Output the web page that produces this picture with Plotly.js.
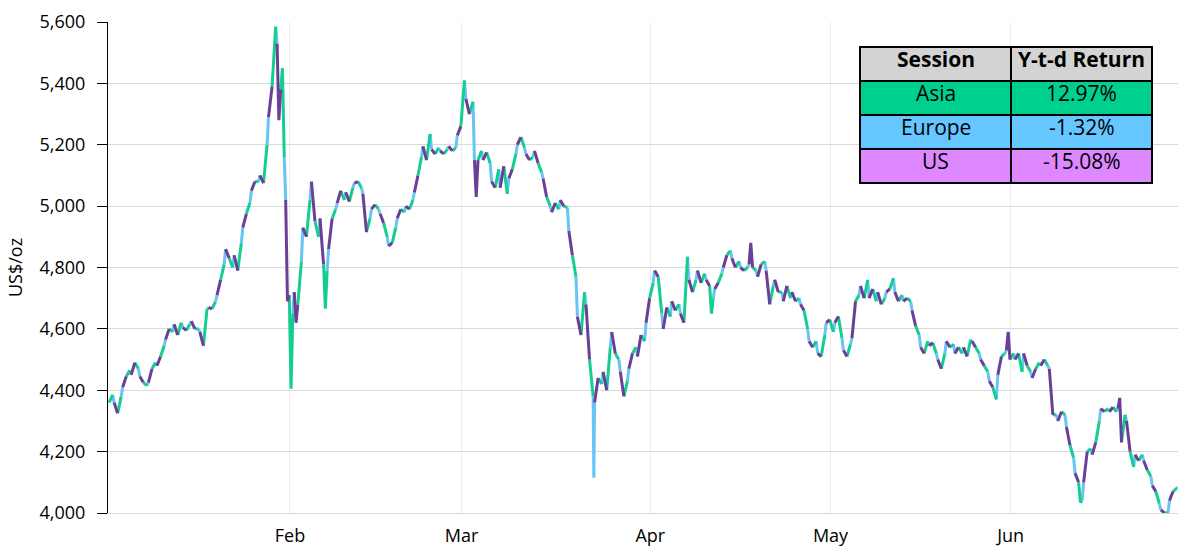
<!DOCTYPE html>
<html><head><meta charset="utf-8">
<script src="https://cdn.plot.ly/plotly-3.0.1.min.js"></script>
<style>html,body{margin:0;padding:0;background:#fff}#chart{width:1191px;height:560px}</style>
</head><body><div id="chart"></div>
<script>
// ---- data ----
const firstDay = '2026-01-02';
const lastDay = '2026-06-26';
const holidays = ['2026-04-03'];
const startOpen = 4360;

// session-end prices per trading day (Asia, Europe, US)
const asiaClose = [
 4385,
 4380,4465,4470,4415,4490,
 4545,4590,4620,4615,4600,
 4665,4690,4810,4800,4880,
 5010,5080,5200,5585,5160,
 4650,4820,5020,4900,4790,
 4990,5020,5060,5060,4960,
 4990,4900,4930,4980,5020,
 5160,5235,5190,5185,5190,
 5410,5340,5180,5140,5120,
 5040,5170,5190,5160,5110,
 5000,4990,4995,4770,4720,
 4380,4420,4540,4500,4430,
 4540,4560,4750,4650,
 4640,4680,4835,4760,4780,
 4700,4780,4855,4820,4800,
 4790,4820,4740,4720,4700,
 4700,4600,4560,4580,4590,
 4570,4550,4710,4760,4690,
 4700,4765,4710,4690,4580,
 4560,4520,4520,4550,4520,
 4565,4520,4460,4370,4520,
 4520,4460,4460,4490,4480,
 4320,4320,4180,4040,4210,
 4300,4340,4330,4320,4150,
 4190,4120,4030,4000,4080
];
const europeClose = [
 4360,
 4410,4450,4445,4425,4480,
 4565,4615,4605,4625,4590,
 4670,4710,4860,4840,4930,
 5050,5100,5290,5530,5020,
 4720,4930,5080,4960,4860,
 5010,5045,5075,5040,4990,
 4975,4870,4960,5000,5045,
 5195,5185,5180,5195,5230,
 5350,5150,5150,5080,5060,
 5090,5200,5170,5180,5090,
 4980,5020,4920,4640,4680,
 4360,4460,4590,4460,4470,
 4510,4620,4790,4600,
 4690,4650,4760,4790,4760,
 4730,4800,4830,4800,4810,
 4770,4790,4760,4690,4720,
 4680,4560,4520,4620,4620,
 4530,4570,4740,4700,4720,
 4720,4720,4690,4660,4540,
 4545,4500,4560,4520,4540,
 4560,4500,4430,4450,4530,
 4500,4520,4440,4480,4470,
 4300,4280,4130,4100,4190,
 4340,4330,4340,4300,4190,
 4170,4090,4010,4040,4085
];
const usClose = [
 4325,
 4445,4490,4425,4470,4510,
 4600,4580,4595,4600,4545,
 4665,4760,4830,4790,4975,
 5080,5075,5390,5380,4710,
 4680,4900,4950,4810,4960,
 5050,5015,5080,4915,5005,
 4945,4880,4990,4990,5100,
 5150,5170,5170,5180,5260,
 5300,5150,5175,5060,5130,
 5120,5225,5150,5140,5030,
 5010,5000,4840,4580,4500,
 4440,4400,4520,4380,4520,
 4580,4700,4770,4670,
 4660,4620,4720,4750,4740,
 4750,4840,4800,4790,4800,
 4810,4680,4720,4740,4690,
 4660,4540,4510,4630,4640,
 4510,4690,4700,4730,4680,
 4730,4690,4700,4610,4520,
 4555,4470,4540,4540,4510,
 4540,4480,4410,4510,4500,
 4520,4480,4470,4500,4320,
 4330,4220,4100,4200,4230,
 4330,4345,4230,4200,4170,
 4140,4070,4000,4070,null
];

// intra-session extremes
const spikeDate    = ['2026-01-29','2026-01-30','2026-01-30','2026-02-02','2026-02-02','2026-02-06','2026-03-03','2026-03-23','2026-04-13','2026-04-17','2026-05-29','2026-06-11','2026-06-17'];
const spikeSession = ['US','Asia','US','Asia','US','Asia','US','Europe','Asia','US','US','Asia','US'];
const spikeValue   = [5280,5450,4690,4405,4620,4666,5030,4115,4650,4880,4590,4035,4375];

const monthTicks  = ['2026-02-02','2026-03-02','2026-04-01','2026-05-01','2026-06-01'];
const monthLabels = ['Feb','Mar','Apr','May','Jun'];

const tableHeader = ['Session','Y-t-d Return'];
const sessions    = ['Asia','Europe','US'];
const ytdReturns  = ['12.97%','-1.32%','-15.08%'];

// ---- styling ----
const lineColors = {Asia:'#13cf8f', Europe:'#66c4f7', US:'#6b3f97'};
const headerFill = '#d3d3d3';
const tableFills = ['#00d08f','#66c6ff','#dd88ff'];
const FONT = 'Open Sans, Noto Sans, sans-serif';
const M = {l:108, r:13, t:22, b:47}, W = 1191, H = 560;
const PW = W - M.l - M.r, PH = H - M.t - M.b;
const px2x = p => (p - M.l) / PW, px2y = p => (H - M.b - p) / PH;

// ---- build trading days ----
const days = [];
for (let t = Date.parse(firstDay+'T00:00:00Z'); t <= Date.parse(lastDay+'T00:00:00Z'); t += 864e5) {
  const d = new Date(t); const wd = d.getUTCDay(); const iso = d.toISOString().slice(0,10);
  if (wd === 0 || wd === 6 || holidays.includes(iso)) continue;
  days.push(iso);
}
const seg = {Asia:{x:[],y:[]}, Europe:{x:[],y:[]}, US:{x:[],y:[]}};
function spikeFor(day, s) {
  for (let k = 0; k < spikeDate.length; k++) if (spikeDate[k] === day && spikeSession[k] === s) return spikeValue[k];
  return null;
}
function addSeg(s, t0, v0, tm, vm, t1, v1) {
  if (v1 === null || v0 === null) return;
  const S = seg[s];
  S.x.push(t0); S.y.push(v0);
  if (vm !== null) { S.x.push(tm); S.y.push(vm); }
  S.x.push(t1); S.y.push(v1);
  S.x.push(null); S.y.push(null);
}
let prevClose = startOpen, prevEnd = '2026-01-01 22:00';
days.forEach((d, i) => {
  const a = asiaClose[i], e = europeClose[i], u = usClose[i];
  addSeg('Asia', prevEnd, prevClose, d+' 03:00', spikeFor(d,'Asia'), d+' 08:00', a);
  addSeg('Europe', d+' 08:00', a, d+' 10:00', spikeFor(d,'Europe'), d+' 12:00', e);
  addSeg('US', d+' 12:00', e, d+' 17:00', spikeFor(d,'US'), d+' 22:00', u);
  prevClose = u; prevEnd = d+' 22:00';
});

const traces = ['Europe','Asia','US'].map(s => ({
  type:'scatter', mode:'lines', x:seg[s].x, y:seg[s].y, name:s,
  line:{color:lineColors[s], width:3}, connectgaps:false, hoverinfo:'skip', showlegend:false
}));

// ---- table as shapes + annotations ----
const tblLeft = 860, tblMid = 1011, tblRight = 1152, tblTop = 47, rowH = 34;
const shapes = [], annotations = [];
const rows = [tableHeader].concat(sessions.map((s, i) => [s, ytdReturns[i]]));
const fills = [headerFill].concat(tableFills);
rows.forEach((r, i) => {
  const y0 = tblTop + i*rowH, y1 = y0 + rowH;
  [[tblLeft, tblMid], [tblMid, tblRight]].forEach(([x0, x1], j) => {
    shapes.push({type:'rect', xref:'paper', yref:'paper', layer:'above',
      x0:px2x(x0), x1:px2x(x1), y0:px2y(y1), y1:px2y(y0),
      fillcolor:fills[i], line:{color:'#000', width:2}});
    annotations.push({xref:'paper', yref:'paper', x:px2x((x0+x1)/2), y:px2y((y0+y1)/2 - 5),
      xanchor:'center', yanchor:'middle', showarrow:false,
      text: i === 0 ? '<b>'+r[j]+'</b>' : r[j],
      font:{family:FONT, size:21, color:'#000'}});
  });
});

const layout = {
  width:W, height:H, margin:M,
  paper_bgcolor:'#fff', plot_bgcolor:'#fff',
  font:{family:FONT, size:18, color:'#000'},
  showlegend:false, shapes, annotations,
  xaxis:{
    type:'date',
    range:['2026-01-01 19:00','2026-06-26 12:00'],
    rangebreaks:[{bounds:['sat','mon']},{values:holidays}],
    tickmode:'array', tickvals:monthTicks, ticktext:monthLabels,
    showgrid:true, gridcolor:'#ececec', gridwidth:1,
    showline:true, linecolor:'#d9d9d9', linewidth:1,
    ticks:'', zeroline:false, ticklabelstandoff:6,
    tickfont:{family:FONT, size:18, color:'#000'}
  },
  yaxis:{
    range:[4000,5600], dtick:200, tick0:4000, tickformat:',',
    showgrid:true, gridcolor:'#d9d9d9', gridwidth:1.2,
    showline:true, linecolor:'#000', linewidth:1,
    ticks:'outside', ticklen:10, tickcolor:'#000', tickwidth:1,
    ticklabelstandoff:8, zeroline:false,
    tickfont:{family:FONT, size:18, color:'#000'},
    title:{text:'US$/oz', font:{family:FONT, size:18, color:'#000'}, standoff:12}
  }
};
Plotly.newPlot('chart', traces, layout, {staticPlot:true, displayModeBar:false});
</script></body></html>
